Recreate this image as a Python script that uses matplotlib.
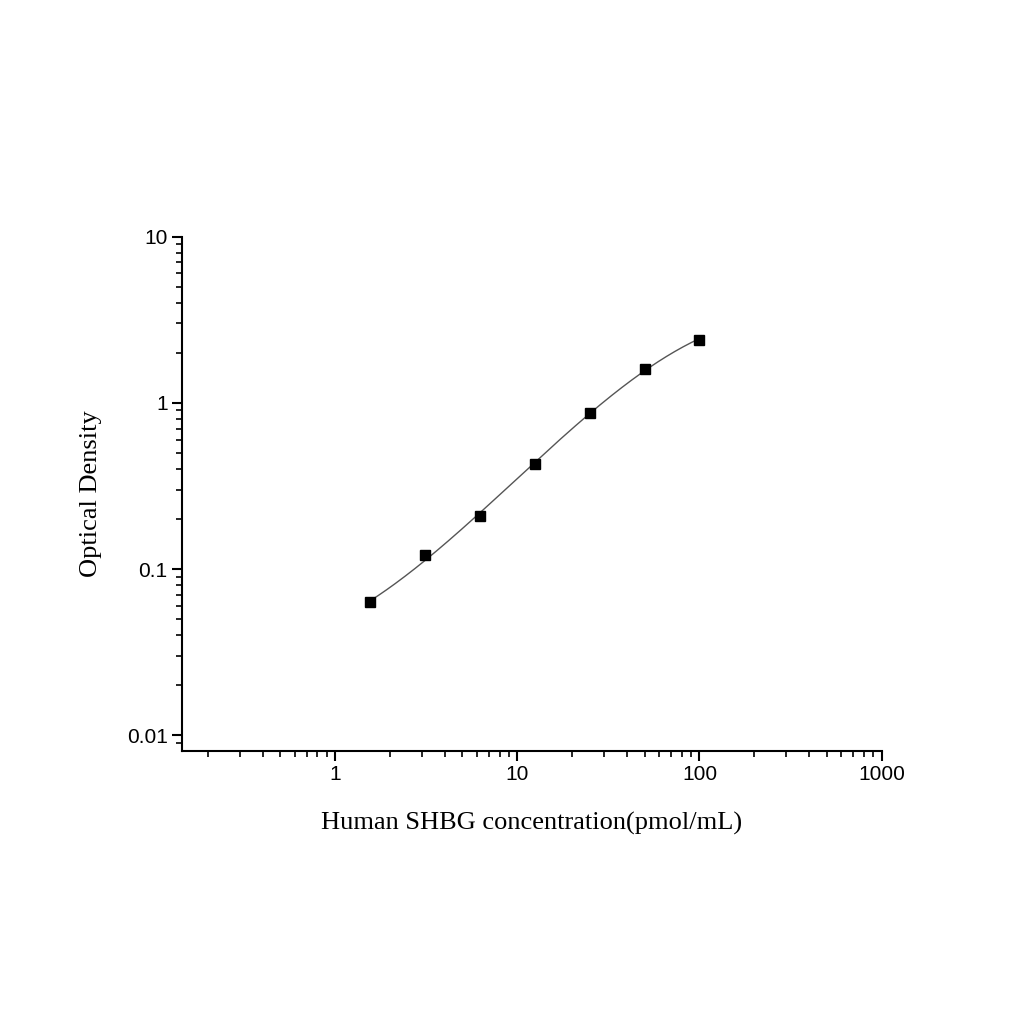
import numpy as np
import matplotlib
matplotlib.use("Agg")
import matplotlib.pyplot as plt

# standard concentrations and measured OD
conc = [1.5625, 3.125, 6.25, 12.5, 25, 50, 100]
od = [0.063, 0.121, 0.209, 0.43, 0.87, 1.6, 2.4]

# smooth fit in log-log space
lx, ly = np.log10(conc), np.log10(od)
coef = np.polyfit(lx, ly, 3)
xf = np.linspace(lx[0], lx[-1], 200)
yf = np.polyval(coef, xf)

fig = plt.figure(figsize=(10.24, 10.24), dpi=100)
ax = fig.add_axes([0.178, 0.267, 0.683, 0.502])
ax.plot(10**xf, 10**yf, color="#555555", lw=1)
ax.plot(conc, od, "s", color="black", ms=7)
ax.set_xscale("log")
ax.set_yscale("log")
ax.set_xlim(0.145, 1000)
ax.set_ylim(0.0081, 10)
for s in ["top", "right"]:
    ax.spines[s].set_visible(False)
for s in ["left", "bottom"]:
    ax.spines[s].set_linewidth(1.5)
ax.tick_params(which="major", direction="out", length=7, width=1.5, labelsize=15)
ax.tick_params(which="minor", direction="out", length=4, width=1.2)
ax.set_xticks([1, 10, 100, 1000])
ax.set_xticklabels(["1", "10", "100", "1000"], family="Liberation Sans")
ax.set_yticks([0.01, 0.1, 1, 10])
ax.set_yticklabels(["0.01", "0.1", "1", "10"], family="Liberation Sans")
ax.set_xlabel("Human SHBG concentration(pmol/mL)", family="Liberation Serif", fontsize=19, labelpad=20)
ax.set_ylabel("Optical Density", family="Liberation Serif", fontsize=19, labelpad=18)
fig.savefig("out.png", dpi=100)
